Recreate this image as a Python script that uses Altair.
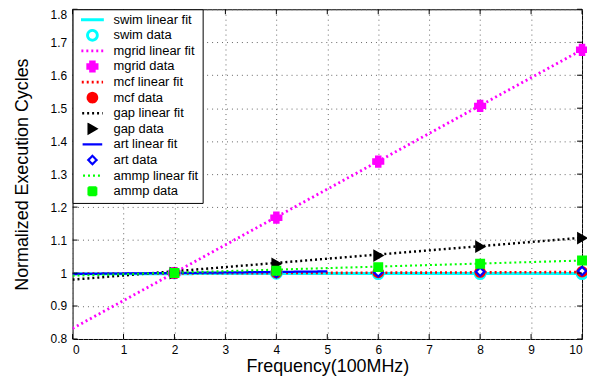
import altair as alt
import pandas as pd

# ---- data ----
x_data = [2, 4, 6, 8, 10]
swim_data = [1.0, 0.999, 0.998, 0.998, 0.998]
mgrid_data = [1.0, 1.168, 1.338, 1.507, 1.677]
mcf_data = [1.0, 1.001, 1.002, 1.003, 1.004]
gap_data = [1.0, 1.028, 1.053, 1.080, 1.106]
art_data = [1.0, 1.0, 1.002, 1.004, 1.006]
ammp_data = [1.0, 1.007, 1.018, 1.028, 1.038]

fit_x = [0, 10]
art_fit_x = [0, 5]
swim_fit = [0.998, 0.999]
mgrid_fit = [0.832, 1.677]
mcf_fit = [0.998, 1.003]
gap_fit = [0.980, 1.107]
art_fit = [0.997, 1.005]
ammp_fit = [0.992, 1.038]

x_ticks = [0, 1, 2, 3, 4, 5, 6, 7, 8, 9, 10]
y_ticks = [0.8, 0.9, 1.0, 1.1, 1.2, 1.3, 1.4, 1.5, 1.6, 1.7, 1.8]

series = ["swim linear fit", "swim data", "mgrid linear fit", "mgrid data",
          "mcf linear fit", "mcf data", "gap linear fit", "gap data",
          "art linear fit", "art data", "ammp linear fit", "ammp data"]
stroke_colors = ["#00ffff", "#00ffff", "#ff00ff", "#ff00ff", "#ff0000", "#ff0000",
                 "#000000", "#000000", "#0000ff", "#0000ff", "#00ff00", "#00ff00"]
fill_colors = ["transparent", "white", "transparent", "#ff00ff", "transparent", "#ff0000",
               "transparent", "#000000", "transparent", "white", "transparent", "#00ff00"]
LINE = "M-2.3,0H2.3"
shapes = [LINE, "circle", LINE, "cross", LINE, "circle", LINE, "triangle-right",
          LINE, "diamond", LINE, "square"]
sizes = [100, 64, 100, 160, 100, 45, 100, 130, 100, 70, 100, 70]
stroke_widths = [3, 2, 1.5, 0, 1.5, 0, 1.5, 0, 3, 2.5, 1.5, 1]
dashes = [[1, 0], [1, 0], [2, 3], [1, 0], [2, 3], [1, 0], [2, 3], [1, 0],
          [1, 0], [1, 0], [2, 3], [1, 0]]

# ---- tables ----
fit_rows = []
for name, xs_, ys_ in [("swim linear fit", fit_x, swim_fit), ("mgrid linear fit", fit_x, mgrid_fit),
                       ("mcf linear fit", fit_x, mcf_fit), ("gap linear fit", fit_x, gap_fit),
                       ("art linear fit", art_fit_x, art_fit), ("ammp linear fit", fit_x, ammp_fit)]:
    for xv, yv in zip(xs_, ys_):
        fit_rows.append({"series": name, "x": xv, "y": yv})
fit_df = pd.DataFrame(fit_rows)

pt_rows = []
for name, ys_ in [("swim data", swim_data), ("mgrid data", mgrid_data), ("mcf data", mcf_data),
                  ("gap data", gap_data), ("art data", art_data), ("ammp data", ammp_data)]:
    for xv, yv in zip(x_data, ys_):
        pt_rows.append({"series": name, "x": xv, "y": yv})
pt_df = pd.DataFrame(pt_rows)

xt_df = pd.DataFrame({"x": x_ticks})
yt_df = pd.DataFrame({"y": y_ticks})

W, H = 513, 332
TL = 5  # inward tick length

font = "Liberation Sans"
xs = alt.Scale(domain=[0, 10], nice=False, zero=False)
ys = alt.Scale(domain=[0.8, 1.8], nice=False, zero=False)
x_axis = alt.Axis(values=x_ticks, tickCount=11, title="Frequency(100MHz)", grid=True, tickSize=0,
                  labelPadding=6, titlePadding=2, labelOverlap=False)
y_axis = alt.Axis(values=y_ticks, tickCount=11, title="Normalized Execution Cycles", grid=True,
                  tickSize=0, labelPadding=6, titlePadding=19, labelOverlap=False,
                  labelOffset={"condition": {"test": "datum.value > 1.79", "value": 5}, "value": 0},
                  labelExpr="format(datum.value, '.1~f')")

stroke_enc = alt.Stroke("series:N", title=None,
                        scale=alt.Scale(domain=series, range=stroke_colors),
                        legend=alt.Legend(orient="top-left",
                                          labelExpr="datum.label + '\u00a0\u00a0\u00a0\u00a0'"))
sw_enc = alt.StrokeWidth("series:N", title=None,
                         scale=alt.Scale(domain=series, range=stroke_widths))

lines = alt.Chart(fit_df).mark_line(clip=True).encode(
    x=alt.X("x:Q", scale=xs, axis=x_axis),
    y=alt.Y("y:Q", scale=ys, axis=y_axis),
    stroke=stroke_enc,
    strokeWidth=sw_enc,
    strokeDash=alt.StrokeDash("series:N", title=None,
                              scale=alt.Scale(domain=series, range=dashes)),
)

points = alt.Chart(pt_df).mark_point(filled=False, opacity=1).encode(
    x=alt.X("x:Q", scale=xs),
    y=alt.Y("y:Q", scale=ys),
    stroke=stroke_enc,
    strokeWidth=sw_enc,
    fill=alt.Fill("series:N", title=None, scale=alt.Scale(domain=series, range=fill_colors)),
    shape=alt.Shape("series:N", title=None, scale=alt.Scale(domain=series, range=shapes)),
    size=alt.Size("series:N", title=None, scale=alt.Scale(domain=series, range=sizes)),
)

# inward ticks on all four sides (MATLAB style)
xt_bottom = alt.Chart(xt_df).mark_rule(color="black", strokeWidth=1).encode(
    x=alt.X("x:Q", scale=xs), y=alt.value(H), y2=alt.value(H - TL))
xt_top = alt.Chart(xt_df).mark_rule(color="black", strokeWidth=1).encode(
    x=alt.X("x:Q", scale=xs), y=alt.value(0), y2=alt.value(TL))
yt_left = alt.Chart(yt_df).mark_rule(color="black", strokeWidth=1).encode(
    y=alt.Y("y:Q", scale=ys), x=alt.value(0), x2=alt.value(TL))
yt_right = alt.Chart(yt_df).mark_rule(color="black", strokeWidth=1).encode(
    y=alt.Y("y:Q", scale=ys), x=alt.value(W), x2=alt.value(W - TL))

chart = alt.layer(lines, points, xt_bottom, xt_top, yt_left, yt_right).properties(
    width=W, height=H,
    autosize=alt.AutoSizeParams(type="none"),
    padding={"left": 65, "top": 0, "right": 5, "bottom": 40},
).configure_view(
    stroke="black", strokeWidth=1
).configure_axis(
    labelFont=font, titleFont=font, labelFontSize=12, titleFontSize=18,
    titleFontWeight="normal", labelColor="black", titleColor="black",
    gridColor="#666", gridDash=[1, 4], gridOpacity=1, gridWidth=1,
    domain=False,
).configure_legend(
    labelFont=font, labelFontSize=13, labelColor="black",
    strokeColor="black", fillColor="white", padding=4, offset=0,
    clipHeight=13, symbolOffset=9.5, rowPadding=1.7, labelOffset=14.7,
    cornerRadius=0, symbolOpacity=1,
)

chart.save("out.html", embed_options={"renderer": "svg", "actions": False})
